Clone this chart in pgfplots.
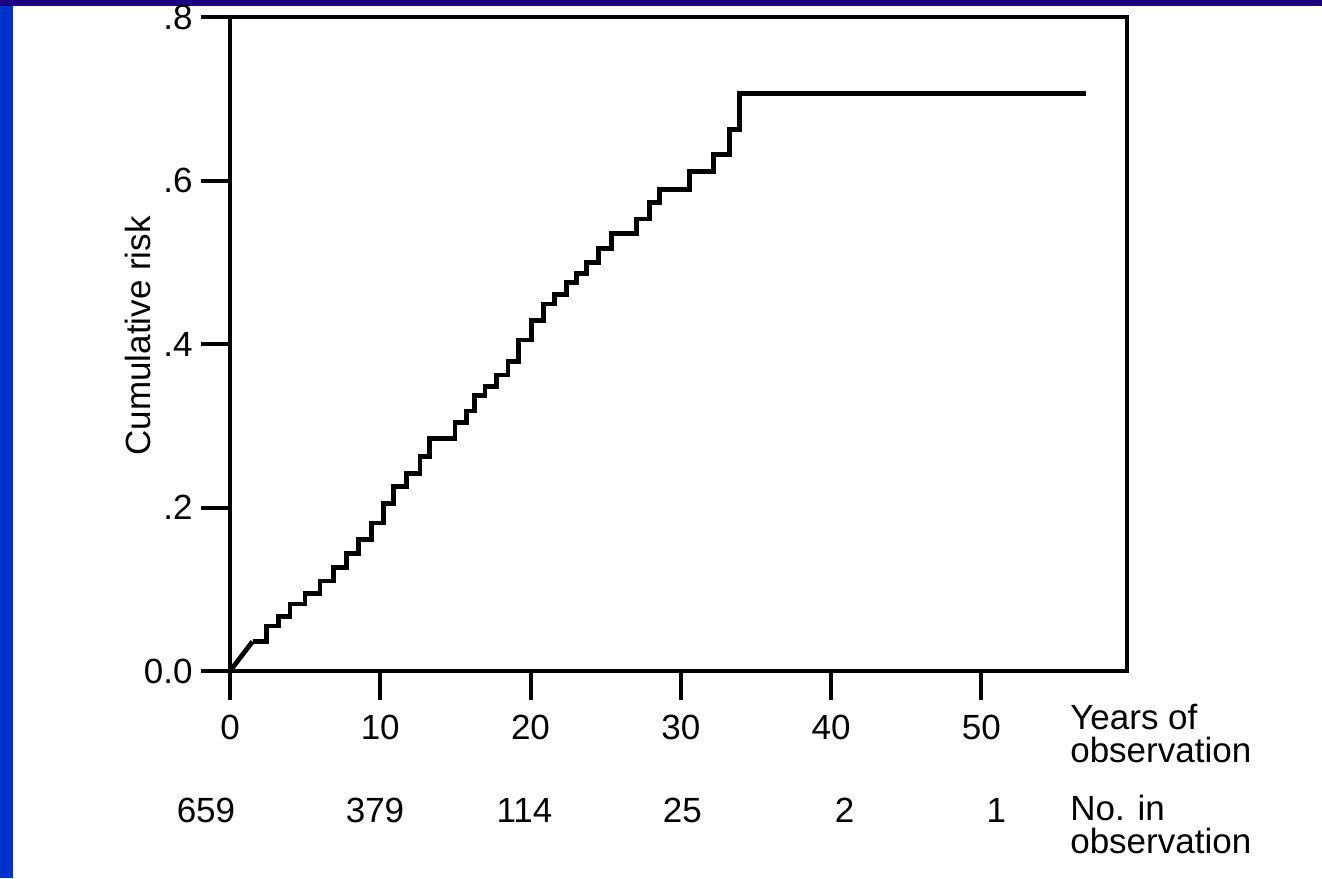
\documentclass[border=0pt]{standalone}
\usepackage{fontspec}
\setmainfont{Liberation Sans}
\usepackage{pgfplots}
\pgfplotsset{compat=1.18}
\definecolor{sideblue}{RGB}{0,51,204}
\definecolor{topnavy}{RGB}{26,0,128}

\begin{document}
\begin{tikzpicture}
\fill[white] (0,0) rectangle (661pt,439pt);
\fill[sideblue] (0,0) rectangle (6.5pt,439pt);
\fill[topnavy] (0,436pt) rectangle (661pt,439pt);
\path[use as bounding box] (0,0) rectangle (661pt,439pt);
\begin{axis}[
  at={(115pt,103.5pt)}, anchor=south west,
  scale only axis, width=448.5pt, height=327pt,
  xmin=0, xmax=59.7, ymin=0, ymax=0.8,
  axis line style={line width=2pt},
  tick pos=left, tick align=outside,
  major tick length=14.5pt,
  tick style={line width=2pt, black},
  xtick={0,10,20,30,40,50},
  xticklabels={0,10,20,30,40,50},
  ytick={0,0.2,0.4,0.6,0.8},
  yticklabels={0.0,.2,.4,.6,.8},
  /pgf/number format/assume math mode=true,
  ticklabel style={font=\fontsize{17.5}{18}\selectfont},
  xticklabel style={inner sep=0pt, anchor=north, yshift=-7.5pt},
  yticklabel style={inner sep=0pt, anchor=east, xshift=-4pt},
  clip=false,
]
\addplot[line width=2.4pt] coordinates {(0,0) (1.5,0.036)};
\addplot[const plot, line width=2.4pt] coordinates {
  (1.5,0.036) (2.44,0.055) (3.22,0.067) (3.99,0.082) (4.99,0.095)
  (5.99,0.110) (6.87,0.127) (7.76,0.144) (8.54,0.161) (9.43,0.181)
  (10.2,0.205) (10.87,0.226) (11.76,0.242) (12.64,0.262) (13.3,0.284)
  (14.97,0.304) (15.75,0.318) (16.25,0.337) (16.97,0.348) (17.75,0.362)
  (18.5,0.379) (19.2,0.405) (20.07,0.429) (20.85,0.449) (21.6,0.461)
  (22.4,0.475) (23.06,0.486) (23.72,0.500) (24.5,0.517) (25.4,0.535)
  (27.06,0.553) (27.94,0.573) (28.6,0.589) (30.6,0.611) (32.16,0.632)
  (33.27,0.662) (33.93,0.706) (57,0.706)
};
\node[rotate=90, font=\fontsize{17.5}{18}\selectfont] at (axis cs:-6.1,0.41) {Cumulative risk};
\node[anchor=north west, align=left, inner sep=0pt, font=\fontsize{17.5}{16.5}\selectfont]
  at (axis cs:55.9,-0.040) {Years of\\observation};
\node[anchor=north west, align=left, inner sep=0pt, font=\fontsize{17.5}{16.5}\selectfont]
  at (axis cs:55.9,-0.151) {No. in\\observation};
\node[font=\fontsize{17.5}{18}\selectfont] at (axis cs:-1.6,-0.170) {659};
\node[font=\fontsize{17.5}{18}\selectfont] at (axis cs:9.65,-0.170) {379};
\node[font=\fontsize{17.5}{18}\selectfont] at (axis cs:19.6,-0.170) {114};
\node[font=\fontsize{17.5}{18}\selectfont] at (axis cs:30.1,-0.170) {25};
\node[font=\fontsize{17.5}{18}\selectfont] at (axis cs:40.9,-0.170) {2};
\node[font=\fontsize{17.5}{18}\selectfont] at (axis cs:51.0,-0.170) {1};
\end{axis}
\end{tikzpicture}
\end{document}
